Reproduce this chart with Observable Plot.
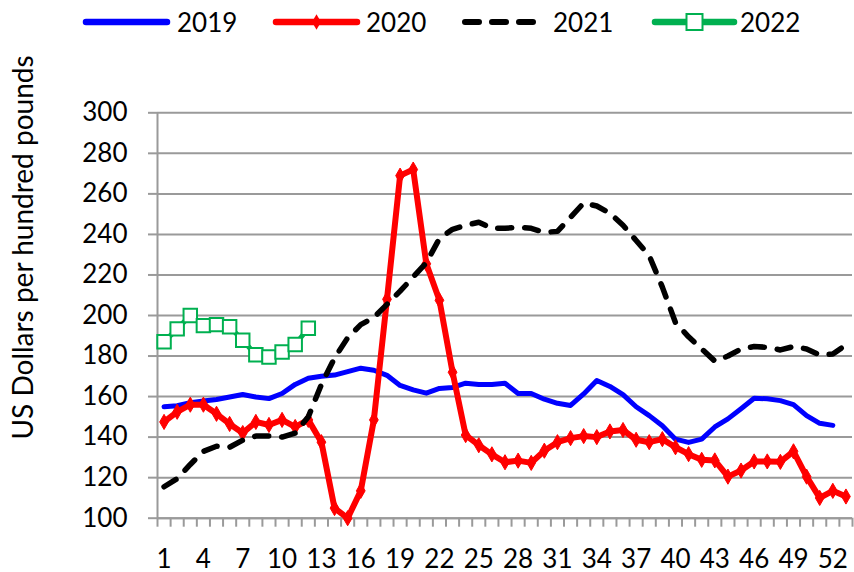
<!DOCTYPE html>
<html>
<head>
<meta charset="utf-8">
<script src="https://cdn.jsdelivr.net/npm/d3@7"></script>
<script src="https://cdn.jsdelivr.net/npm/@observablehq/plot@0.6"></script>
<style>
  html, body { margin: 0; padding: 0; background: #ffffff; }
  body { width: 854px; height: 572px; overflow: hidden; font-family: Lato, "Open Sans", sans-serif; }
  #legend svg, #chart svg { display: block; }
</style>
</head>
<body>
<div id="legend"></div>
<div id="chart"></div>
<script>
// ---- data ----
const weeks = d3.range(1, 54);
const xTickLabels = [1, 4, 7, 10, 13, 16, 19, 22, 25, 28, 31, 34, 37, 40, 43, 46, 49, 52];
const yTicks = [100, 120, 140, 160, 180, 200, 220, 240, 260, 280, 300];
const years = ["2019", "2020", "2021", "2022"];
const yLabel = "US Dollars per hundred pounds";

const v2019 = [155, 155.5, 157, 157.8, 158.6, 159.8, 161, 159.8, 159, 161.5,
  166, 169, 170, 170.6, 172.3, 174, 173, 170.5, 165.5, 163.3,
  161.7, 164, 164.5, 166.6, 166, 166, 166.6, 161.5, 161.5, 158.7,
  156.7, 155.6, 161.3, 167.9, 165, 161, 155, 150.6, 145.6, 139,
  137.4, 139, 145, 149, 154, 159.2, 158.9, 158, 156, 150.6,
  146.8, 145.8];
const v2020 = [147.5, 152.5, 156, 156, 151.5, 146.5, 142, 147.5, 146, 148.5,
  145, 148.5, 137.5, 105, 100, 113.5, 148.5, 208, 269, 272,
  225.5, 207.5, 172, 141, 136, 131.5, 127.6, 128.4, 127.3, 133.3,
  137.5, 139.5, 140.5, 140, 142.8, 143.5, 138.7, 137.5, 139, 135,
  131.6, 128.8, 128.5, 120.5, 123.5, 128, 128, 127.8, 133, 120.5,
  110, 113.5, 110.7];
const v2021 = [115.5, 119.5, 126.5, 133, 135.5, 135, 138.5, 140.5, 140.5, 140,
  142, 150, 166, 179, 189, 195.5, 199, 205.5, 212, 219,
  226, 238, 242.5, 244.5, 246, 243, 243, 243.5, 243, 241,
  241.5, 248.5, 255.5, 254, 250.5, 244.5, 237, 229.5, 214, 196.5,
  189.5, 183.5, 177.5, 180, 183.5, 184.7, 184.3, 183, 184.7, 183.5,
  180.5, 181, 185.5];
const v2022 = [187, 193.4, 200, 195, 195.5, 194.5, 187.8, 180.6, 179.5, 182, 185.7, 193.7];

const colors = {"2019": "#0000ff", "2020": "#ff0000", "2021": "#000000", "2022": "#00b050"};
const seriesValues = {"2019": v2019, "2020": v2020, "2021": v2021, "2022": v2022};
const rows = {};
for (const yr of years) rows[yr] = seriesValues[yr].map((v, i) => ({week: weeks[i], value: v}));
const boundaries = [0.5, ...weeks.map(w => w + 0.5)];

// ---- legend ----
const LEG_H = 44;
const FONT = "Lato, 'Open Sans', sans-serif";
const leg = d3.select("#legend").append("svg").attr("width", 854).attr("height", LEG_H);
const legY = 22;
const items = [
  {year: "2019", x1: 86, x2: 167, tx: 177},
  {year: "2020", x1: 276, x2: 357, tx: 366},
  {year: "2021", x1: 465, x2: 537, tx: 553},
  {year: "2022", x1: 655, x2: 734, tx: 740}
];
for (const it of items) {
  const l = leg.append("line").attr("x1", it.x1).attr("x2", it.x2).attr("y1", legY).attr("y2", legY)
    .attr("stroke", colors[it.year]).attr("stroke-width", 6.5).attr("stroke-linecap", "round");
  if (it.year === "2021") l.attr("stroke-dasharray", "14,13").attr("stroke-width", 6);
  const cx = (it.x1 + it.x2) / 2;
  if (it.year === "2020") {
    leg.append("path").attr("d", d3.symbol(d3.symbolDiamond, 70)())
      .attr("transform", `translate(${cx},${legY})`).attr("fill", colors[it.year]);
  }
  if (it.year === "2022") {
    leg.append("rect").attr("x", cx - 8).attr("y", legY - 8).attr("width", 16).attr("height", 16)
      .attr("fill", "white").attr("stroke", colors[it.year]).attr("stroke-width", 2);
  }
  leg.append("text").attr("x", it.tx).attr("y", 32).text(it.year)
    .attr("font-family", FONT).attr("font-size", 26).attr("fill", "black");
}

// ---- chart ----
const GRID = "#9a9a9a";
const plotTop = 112.3, plotBottom = 517.7;
const chart = Plot.plot({
  width: 854,
  height: 572 - LEG_H,
  marginLeft: 157,
  marginRight: 2,
  marginTop: plotTop - LEG_H,
  marginBottom: 572 - plotBottom,
  x: {domain: [0.5, 53.5], axis: null},
  y: {domain: [100, 300], axis: null},
  style: {fontFamily: FONT, fontSize: "26px", color: "black", background: "white", overflow: "visible"},
  marks: [
    Plot.gridY(yTicks, {stroke: GRID, strokeOpacity: 1, strokeWidth: 2}),
    Plot.ruleX([0.5], {stroke: GRID, strokeWidth: 2}),
    Plot.ruleY([100], {stroke: GRID, strokeWidth: 2}),
    Plot.axisY({ticks: yTicks, tickSize: 9, tickPadding: 21, stroke: GRID, strokeWidth: 2, fontSize: 26, label: null}),
    Plot.axisX({ticks: boundaries, tickSize: 9, tickFormat: () => "", stroke: GRID, strokeWidth: 2, label: null}),
    Plot.axisX({ticks: xTickLabels, tickSize: 0, tickPadding: 31, fontSize: 26, label: null}),
    Plot.text([yLabel], {frameAnchor: "left", rotate: -90, dx: 32 - 157, dy: -68,
      lineAnchor: "bottom", textAnchor: "middle", fontSize: 28, fill: "black"}),
    Plot.line(rows["2019"], {x: "week", y: "value", stroke: colors["2019"], strokeWidth: 5,
      strokeLinejoin: "round", strokeLinecap: "round"}),
    Plot.line(rows["2020"], {x: "week", y: "value", stroke: colors["2020"], strokeWidth: 6,
      strokeLinejoin: "round", strokeLinecap: "round"}),
    Plot.dot(rows["2020"], {x: "week", y: "value", symbol: "diamond", r: 4.6, fill: colors["2020"],
      stroke: colors["2020"], strokeWidth: 1}),
    Plot.line(rows["2021"], {x: "week", y: "value", stroke: colors["2021"], strokeWidth: 5.5,
      strokeDasharray: "14,13", strokeLinejoin: "round", strokeLinecap: "round"}),
    Plot.line(rows["2022"], {x: "week", y: "value", stroke: colors["2022"], strokeWidth: 5,
      strokeLinejoin: "round", strokeLinecap: "round"}),
    Plot.dot(rows["2022"], {x: "week", y: "value", symbol: "square", r: 7.6, fill: "white",
      stroke: colors["2022"], strokeWidth: 2})
  ]
});
document.getElementById("chart").appendChild(chart);
</script>
</body>
</html>
